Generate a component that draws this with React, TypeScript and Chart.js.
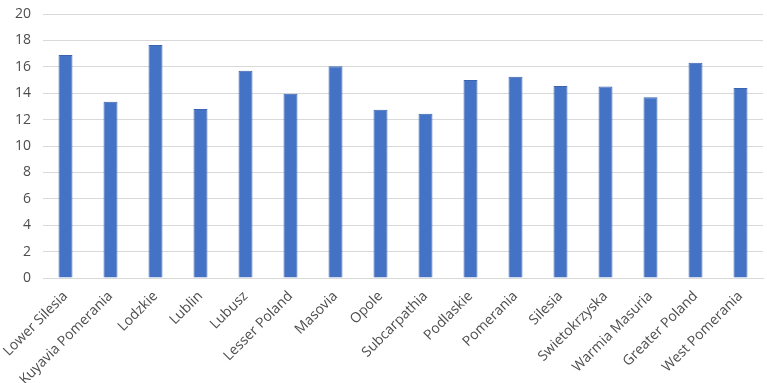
import React, { useEffect, useRef } from "react";
import { Chart, registerables } from "chart.js";

Chart.register(...registerables);

const categories = [
  "Lower Silesia",
  "Kuyavia Pomerania",
  "Lodzkie",
  "Lublin",
  "Lubusz",
  "Lesser Poland",
  "Masovia",
  "Opole",
  "Subcarpathia",
  "Podlaskie",
  "Pomerania",
  "Silesia",
  "Swietokrzyska",
  "Warmia Masuria",
  "Greater Poland",
  "West Pomerania",
];

const values = [16.9, 13.35, 17.65, 12.8, 15.7, 13.95, 16.05, 12.75, 12.45, 15.0, 15.25, 14.55, 14.5, 13.7, 16.3, 14.4];

const yMin = 0;
const yMax = 20;
const yStep = 2;

export default function App() {
  const ref = useRef<HTMLCanvasElement>(null);
  useEffect(() => {
    if (!ref.current) return;
    const chart = new Chart(ref.current, {
      type: "bar",
      data: {
        labels: categories,
        datasets: [
          {
            data: values,
            backgroundColor: "#4472c4",
            borderColor: "#3a64b0",
            borderWidth: 1,
            barPercentage: 0.31,
            categoryPercentage: 1,
          },
        ],
      },
      options: {
        responsive: false,
        animation: false,
        layout: { padding: { top: 14, right: 4, left: 0, bottom: 0 } },
        plugins: { legend: { display: false }, tooltip: { enabled: false } },
        scales: {
          x: {
            grid: { display: false },
            border: { display: true, color: "#d9d9d9", width: 1 },
            ticks: {
              color: "#4d4d4d",
              font: { family: "'Open Sans', sans-serif", size: 14 },
              minRotation: 45,
              maxRotation: 45,
              autoSkip: false,
              padding: 2,
            },
            afterFit: (s: any) => {
              s.height = 105;
              s.paddingTop = 0;
            },
          },
          y: {
            min: yMin,
            max: yMax,
            ticks: {
              stepSize: yStep,
              color: "#4d4d4d",
              font: { family: "'Open Sans', sans-serif", size: 14 },
              padding: 12,
            },
            grid: { color: "#d9d9d9", drawTicks: false },
            border: { display: false },
            afterFit: (s: any) => {
              s.width = 43;
              s.paddingTop = 0;
              s.paddingBottom = 0;
            },
          },
        },
      },
    });
    return () => chart.destroy();
  }, []);
  return (
    <div style={{ position: "fixed", left: 0, top: 0, width: 767, height: 383, background: "#fff" }}>
      <canvas ref={ref} width={767} height={383} />
    </div>
  );
}
